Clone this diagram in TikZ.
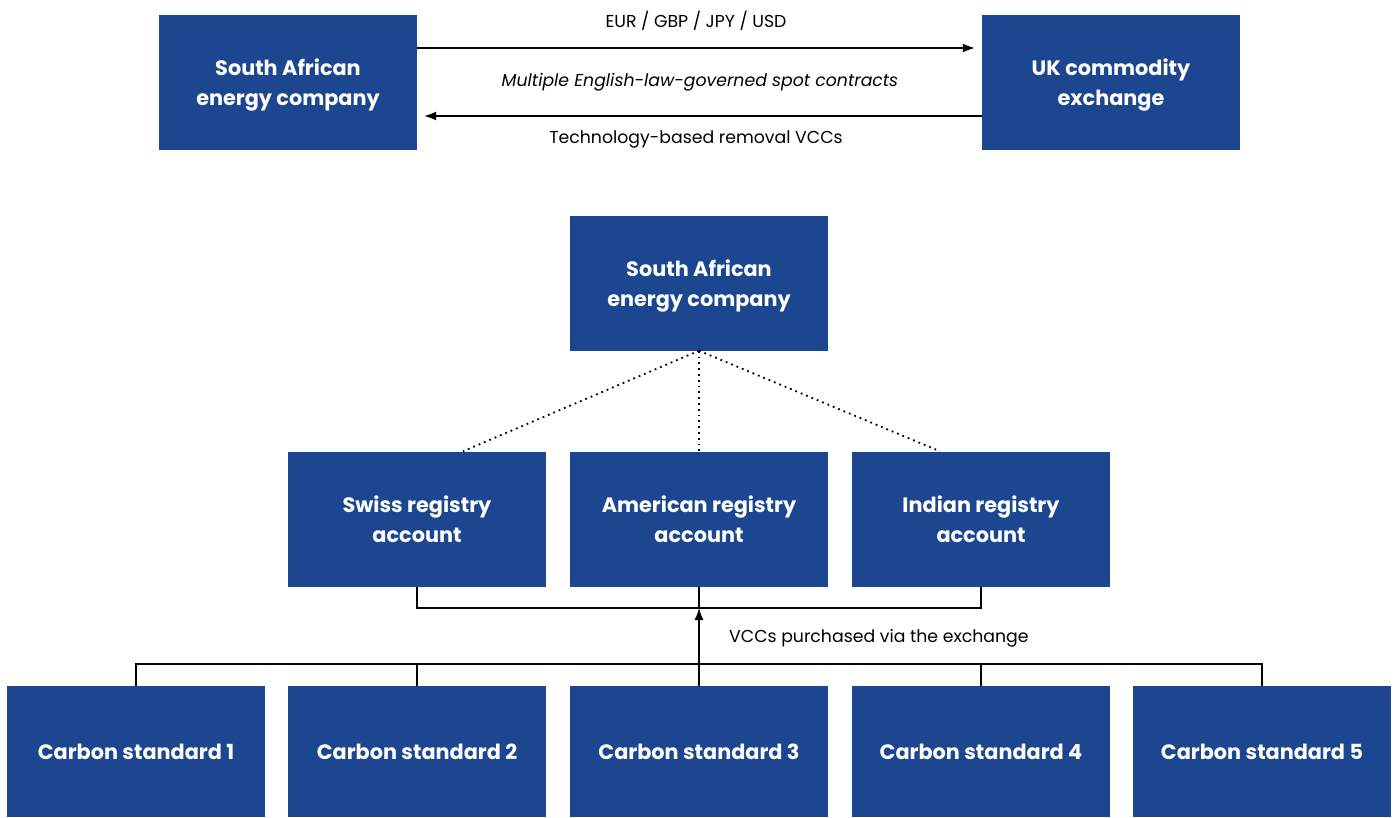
\documentclass[tikz,border=0pt]{standalone}
\usepackage{fontspec}
\setmainfont{Poppins}
\usetikzlibrary{arrows.meta}
\definecolor{boxblue}{RGB}{28,71,144}

\begin{document}
\begin{tikzpicture}[
    x=1pt, y=-1pt,
    box/.style={fill=boxblue, text=white, minimum width=258pt, minimum height=135pt,
        inner sep=0pt, align=center, text depth=0pt, font=\fontsize{20.8}{30}\selectfont\bfseries},
    lowbox/.style={box, minimum height=131pt},
    lbl/.style={font=\fontsize{17.3}{20}\selectfont, inner sep=0pt},
    arr/.style={-{Latex[length=12pt,width=9pt]}, line width=1.3pt},
    link/.style={line width=1.3pt},
    dots/.style={line width=1.8pt, dash pattern=on 1.8pt off 4pt},
]
\useasboundingbox (0,0) rectangle (1397,817);

% --- Top: spot contracts with the exchange ---
\node[box] (sa1) at (288,82.5) {South African\\energy company};
\node[box] (uk) at (1111,82.5) {UK commodity\\exchange};

\draw[arr, shorten >=7pt] ([yshift=34.5pt]sa1.east) -- ([yshift=34.5pt]uk.west);
\draw[arr, shorten >=7pt] ([yshift=-33.5pt]uk.west) -- ([yshift=-33.5pt]sa1.east);

\node[lbl] (cur) at (696,21) {EUR / GBP / JPY / USD};
\node[lbl, font=\fontsize{17.3}{20}\selectfont\itshape] (law) at (700,82) {Multiple English-law-governed spot contracts};
\node[lbl] (tech) at (696,139) {Technology-based removal VCCs};

% --- Middle: company and its registry accounts ---
\node[box] (sa2) at (699,283) {South African\\energy company};
\node[box] (swiss) at (417,519) {Swiss registry\\account};
\node[box] (american) at (699,519) {American registry\\account};
\node[box] (indian) at (981,519) {Indian registry\\account};

\draw[dots] (sa2.south) -- ([xshift=46pt]swiss.north);
\draw[dots] (sa2.south) -- (american.north);
\draw[dots] (sa2.south) -- ([xshift=-41pt]indian.north);

% --- Bottom: carbon standards ---
\foreach \i/\x in {1/136,2/417,3/699,4/981,5/1262} {
    \node[lowbox] (cs\i) at (\x,751.5) {Carbon standard \i};
}

\coordinate (join) at (699,608);
\coordinate (split) at (699,664);
\draw[link] (swiss.south) |- (join) -| (indian.south);
\draw[link] (american.south) -- (join);
\draw[link] (cs1.north) |- (split) -| (cs5.north);
\foreach \i in {2,4} {
    \draw[link] (cs\i.north) -- (cs\i.north |- split);
}
\draw[arr] (cs3.north) -- (join);
\node[lbl, anchor=west] (via) at (729,638) {VCCs purchased via the exchange};

\end{tikzpicture}
\end{document}
